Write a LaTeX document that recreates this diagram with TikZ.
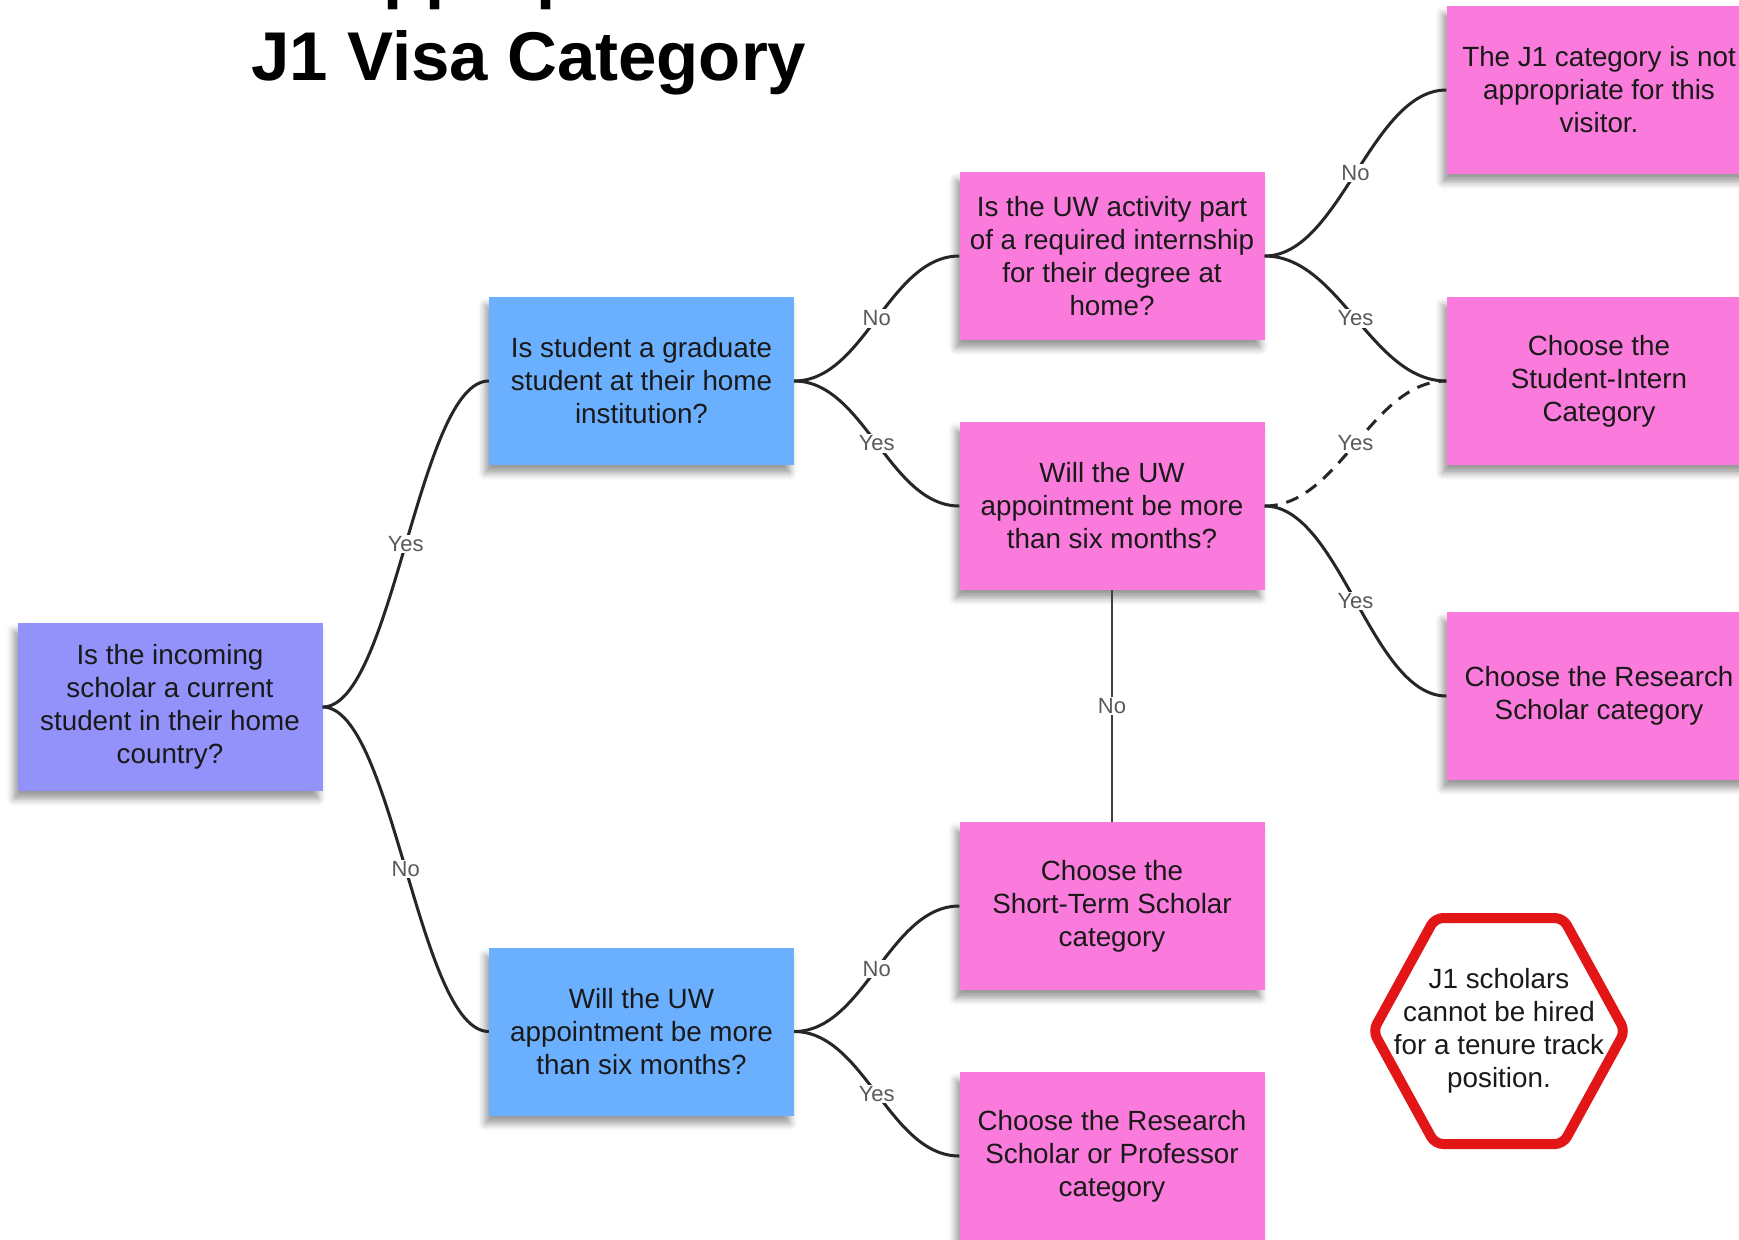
\documentclass[tikz,border=0pt]{standalone}
\usepackage{fontspec}
\setmainfont{Liberation Sans}
\usetikzlibrary{shadows.blur}
\definecolor{qpurple}{RGB}{146,146,250}
\definecolor{qblue}{RGB}{107,176,255}
\definecolor{apink}{RGB}{250,123,220}
\definecolor{warnred}{RGB}{226,22,22}
\begin{document}
\begin{tikzpicture}[x=1pt, y=-1pt,
	box/.style = {minimum width=305pt, minimum height=168pt, inner sep=0pt, align=center, text=black!90, font=\fontsize{27.8}{33}\selectfont, blur shadow={shadow xshift=-4pt, shadow yshift=-8pt, shadow blur radius=7pt, shadow opacity=40}},
	link/.style = {draw=black!85, line width=3pt},
	lbl/.style = {fill=white, inner sep=1.5pt, text=black!65, font=\fontsize{22}{22}\selectfont},
	title/.style = {anchor=base, font=\fontsize{69}{80}\selectfont\bfseries}]
		\useasboundingbox (0,0) rectangle (1739,1239);
		%Title
		\node[title] (head1) at (529,-4.5) {Appropriate};
		\node[title] (head2) at (529,81) {J1 Visa Category};
		%Questions
		\node[box, fill=qpurple] (root) at (170,707) {Is the incoming\\scholar a current\\student in their home\\country?};
		\node[box, fill=qblue] (grad) at (641.5,381) {Is student a graduate\\student at their home\\institution?};
		\node[box, fill=qblue] (stay) at (641.5,1031.5) {Will the UW\\appointment be more\\than six months?};
		\node[box, fill=apink] (intern) at (1112,256) {Is the UW activity part\\of a required internship\\for their degree at\\home?};
		\node[box, fill=apink] (longer) at (1112,506) {Will the UW\\appointment be more\\than six months?};
		%Answers
		\node[box, fill=apink] (shortterm) at (1112,906) {Choose the\\Short-Term Scholar\\category};
		\node[box, fill=apink] (resprof) at (1112,1156) {Choose the Research\\Scholar or Professor\\category};
		\node[box, fill=apink] (notj1) at (1599,90) {The J1 category is not\\appropriate for this\\visitor.};
		\node[box, fill=apink] (studint) at (1599,381) {Choose the\\Student-Intern\\Category};
		\node[box, fill=apink] (ressch) at (1599,696) {Choose the Research\\Scholar category};
		%Warning
		\draw[warnred, fill=white, line width=10pt, rounded corners=8pt] (1373,1031) -- (1435,918) -- (1563,918) -- (1625,1031) -- (1563,1144) -- (1435,1144) -- cycle;
		\node[align=center, text=black!90, font=\fontsize{27.8}{33}\selectfont] (warn) at (1499,1031) {J1 scholars\\cannot be hired\\for a tenure track\\position.};
		% Links
		\draw[link] (root.east) .. controls +(70,0) and +(-70,0) .. (grad.west) node[lbl, pos=0.5] {Yes};	% root-grad
		\draw[link] (root.east) .. controls +(70,0) and +(-70,0) .. (stay.west) node[lbl, pos=0.5] {No};	% root-stay
		\draw[link] (grad.east) .. controls +(70,0) and +(-70,0) .. (intern.west) node[lbl, pos=0.5] {No};	% grad-intern
		\draw[link] (grad.east) .. controls +(70,0) and +(-70,0) .. (longer.west) node[lbl, pos=0.5] {Yes};	% grad-longer
		\draw[link] (stay.east) .. controls +(70,0) and +(-70,0) .. (shortterm.west) node[lbl, pos=0.5] {No};	% stay-shortterm
		\draw[link] (stay.east) .. controls +(70,0) and +(-70,0) .. (resprof.west) node[lbl, pos=0.5] {Yes};	% stay-resprof
		\draw[link] (intern.east) .. controls +(75,0) and +(-75,0) .. (notj1.west) node[lbl, pos=0.5] {No};	% intern-notj1
		\draw[link] (intern.east) .. controls +(75,0) and +(-75,0) .. (studint.west) node[lbl, pos=0.5] {Yes};	% intern-studint
		\draw[link, dash pattern=on 13pt off 9pt] (longer.east) .. controls +(75,0) and +(-75,0) .. (studint.west) node[lbl, pos=0.5] {Yes};	% longer-studint
		\draw[link] (longer.east) .. controls +(75,0) and +(-75,0) .. (ressch.west) node[lbl, pos=0.5] {Yes};	% longer-ressch
		\draw[draw=black!75, line width=2pt] (longer.south) -- (shortterm.north) node[lbl, midway] {No};	% longer-shortterm
\end{tikzpicture}
\end{document}
